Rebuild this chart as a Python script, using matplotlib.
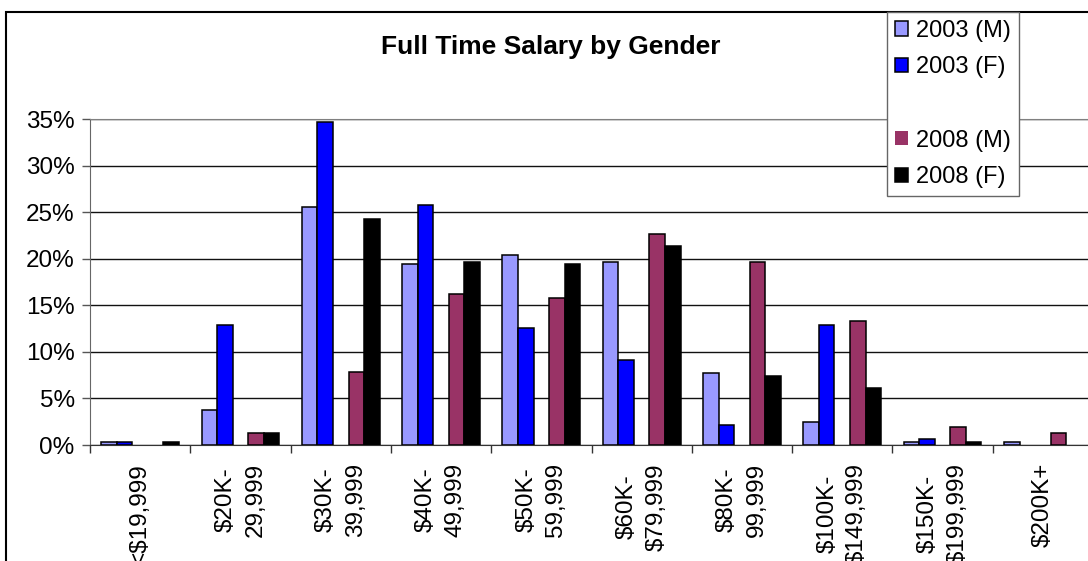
import matplotlib
matplotlib.use("Agg")
import matplotlib.pyplot as plt
from matplotlib.patches import Rectangle
import numpy as np

# --- data (percent of respondents) ---
categories = ["<$19,999", "$20K-\n29,999", "$30K-\n39,999", "$40K-\n49,999",
              "$50K-\n59,999", "$60K-\n$79,999", "$80K-\n99,999",
              "$100K-\n$149,999", "$150K-\n$199,999", "$200K+"]
m_2003 = [0.36, 3.75, 25.5, 19.4, 20.45, 19.7, 7.7, 2.47, 0.36, 0.36]
f_2003 = [0.36, 12.9, 34.65, 25.8, 12.55, 9.1, 2.1, 12.9, 0.68, 0.0]
m_2008 = [0.0, 1.25, 7.87, 16.2, 15.8, 22.6, 19.7, 13.3, 1.93, 1.25]
f_2008 = [0.36, 1.25, 24.3, 19.7, 19.4, 21.4, 7.37, 6.08, 0.36, 0.0]
yticks = [0, 5, 10, 15, 20, 25, 30, 35]

plt.rcParams["font.family"] = ["Liberation Sans", "DejaVu Sans"]

W, H = 1088, 561
fig = plt.figure(figsize=(W / 100, H / 100), dpi=100)
fig.patch.set_facecolor("white")

# plot area in pixels: x 90 -> 1093 (runs off the right edge), y 119 -> 445
ax = fig.add_axes([90 / W, (H - 445) / H, 1003 / W, (445 - 119) / H])

x = np.arange(len(categories))
w = 0.155
series = [
    (m_2003, "#9999FF", "2003 (M)", -2),
    (f_2003, "#0000FF", "2003 (F)", -1),
    (m_2008, "#993366", "2008 (M)", 1),
    (f_2008, "#000000", "2008 (F)", 2),
]
handles = []
for vals, col, lab, slot in series:
    # zero-height bars get no outline, as in the original
    lws = [1.1 if v > 0 else 0 for v in vals]
    b = ax.bar(x + slot * w, vals, width=w, color=col, edgecolor="black",
               linewidth=lws, label=lab, zorder=3)
    handles.append(b)

ax.set_xlim(-0.5, len(categories) - 0.5)
ax.set_ylim(0, 35)

ax.set_yticks(yticks)
ax.set_yticklabels([f"{v}%" for v in yticks], fontsize=17.5)
ax.yaxis.grid(True, color="#111111", linewidth=1.0, zorder=0)
ax.tick_params(axis="y", direction="out", length=6, width=1, pad=5,
               color="#555555")

# category ticks between groups, labels at group centres
ax.set_xticks(np.arange(-0.5, len(categories), 1.0))
ax.set_xticklabels([])
ax.set_xticks(x, minor=True)
ax.set_xticklabels(categories, minor=True, rotation=90, fontsize=17.5,
                   va="top", ha="center", multialignment="center",
                   linespacing=1.45)
ax.tick_params(axis="x", which="major", direction="out", length=6, width=1,
               color="#333333")
ax.tick_params(axis="x", which="minor", length=0, pad=13)

ax.spines["right"].set_visible(False)
ax.spines["top"].set_color("#808080")
ax.spines["left"].set_color("#666666")
ax.spines["bottom"].set_color("#333333")

# title
fig.text(551 / W, 1 - 47 / H, "Full Time Salary by Gender", fontsize=19,
         fontweight="bold", ha="center", va="center")

# legend with an empty slot between the 2003 and 2008 entries
blank = Rectangle((0, 0), 1, 1, facecolor="none", edgecolor="none")
leg_handles = [handles[0], handles[1], blank, handles[2], handles[3]]
leg_labels = ["2003 (M)", "2003 (F)", " ", "2008 (M)", "2008 (F)"]
leg = fig.legend(leg_handles, leg_labels, loc="upper left",
                 bbox_to_anchor=(887 / W, 1 - 12 / H), fontsize=17,
                 frameon=True, fancybox=False, edgecolor="#666666",
                 framealpha=1, handlelength=0.55, handleheight=0.55,
                 handletextpad=0.35, labelspacing=0.62, borderpad=0.33,
                 borderaxespad=0)
leg.get_frame().set_linewidth(1.0)

# outer chart border (clipped at right and bottom)
fig.patches.append(Rectangle((6 / W, -0.1), 1.2, 1.1 - 12 / H,
                             transform=fig.transFigure, fill=False,
                             edgecolor="black", linewidth=1.5, clip_on=False))

fig.savefig("out.png", dpi=100)
